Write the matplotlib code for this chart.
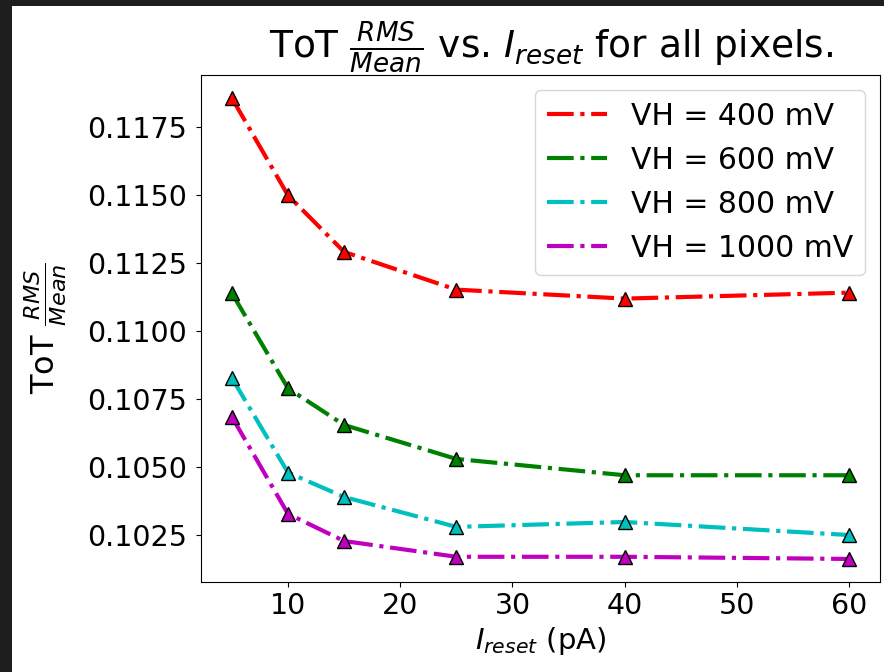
import matplotlib
matplotlib.use("Agg")
import matplotlib.pyplot as plt
from matplotlib.patches import Rectangle

# Data
i_reset = [5, 10, 15, 25, 40, 60]
labels = ["VH = 400 mV", "VH = 600 mV", "VH = 800 mV", "VH = 1000 mV"]
colors = ["r", "g", "c", "m"]
vh400 = [0.11858, 0.11500, 0.11292, 0.11153, 0.11120, 0.11142]
vh600 = [0.11140, 0.10790, 0.10655, 0.10530, 0.10470, 0.10470]
vh800 = [0.10828, 0.10480, 0.10390, 0.10280, 0.10298, 0.10250]
vh1000 = [0.10685, 0.10328, 0.10228, 0.10170, 0.10170, 0.10162]
series = [vh400, vh600, vh800, vh1000]
yticks = [0.1025, 0.1050, 0.1075, 0.1100, 0.1125, 0.1150, 0.1175]
xticks = [10, 20, 30, 40, 50, 60]

fig = plt.figure(figsize=(8.84, 6.72), dpi=100)
ax = fig.add_axes([201/884, 1-582/672, (880-201)/884, (582-75)/672])

for vals, c, lab in zip(series, colors, labels):
    ax.plot(i_reset, vals, linestyle='-.', color=c, lw=3, label=lab)
    ax.plot(i_reset, vals, linestyle='none', marker='^', markersize=10,
            markerfacecolor=c, markeredgecolor='k', markeredgewidth=1)

ax.set_yticks(yticks)
ax.set_yticklabels([f"{v:.4f}" for v in yticks])
ax.set_xticks(xticks)
ax.tick_params(labelsize=20.5)
ax.tick_params(axis='y', pad=6.5)
ax.set_title(r"ToT $\frac{RMS}{Mean}$ vs. $I_{reset}$ for all pixels.", fontsize=27, pad=3, x=0.516)
ax.set_xlabel(r"$I_{reset}$ (pA)", fontsize=21)
ax.set_ylabel(r"ToT $\frac{RMS}{Mean}$", fontsize=23, labelpad=13)
ax.legend(loc='upper right', fontsize=21.5, handlelength=2.0)

# screenshot dark border
fig.patches.append(Rectangle((0, 1-6/672), 1, 6/672, transform=fig.transFigure,
                             facecolor='#1e1e1e', edgecolor='none', zorder=10))
fig.patches.append(Rectangle((0, 0), 12/884, 1, transform=fig.transFigure,
                             facecolor='#1e1e1e', edgecolor='none', zorder=10))

fig.savefig("out.png", dpi=100)
